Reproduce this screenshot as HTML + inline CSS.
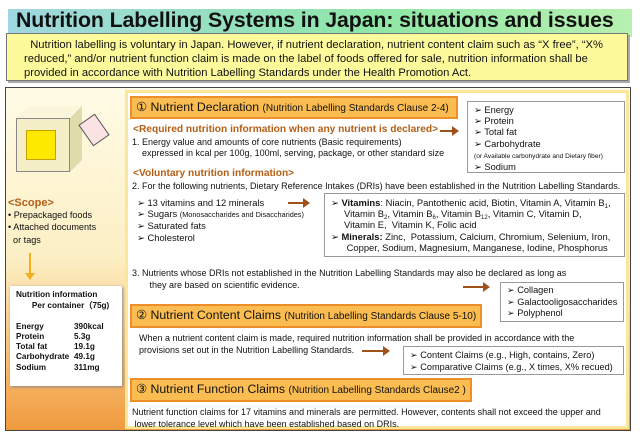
<!DOCTYPE html>
<html><head><meta charset="utf-8"><style>
*{margin:0;padding:0;box-sizing:border-box}
body{width:640px;height:443px;background:#fff;position:relative;overflow:hidden;font-family:"Liberation Sans",Arial,sans-serif;color:#111}
.a{position:absolute;white-space:nowrap}
.hdr{position:absolute;background:#fbbd52;border:2px solid #ec8e2a;font-size:12.3px;line-height:19px;padding-left:4px;white-space:nowrap;overflow:hidden}
.hdr small{font-size:10px}
.box{position:absolute;background:#fff;border:1px solid #999;white-space:nowrap}
.t9{font-size:9px}
.br{color:#b35f16;font-weight:bold;font-size:10.2px}
.s{font-size:6px;vertical-align:-2px;line-height:0}
.arr{position:absolute;height:2px;background:#a0521a}
.arr:after{content:"";position:absolute;right:-2px;top:-4px;border-left:7px solid #a0521a;border-top:5px solid transparent;border-bottom:5px solid transparent}
</style></head><body>
<div class="a" style="left:8px;top:9px;width:624px;height:28px;background:linear-gradient(90deg,#9fd7e0,#8fe7a6 60%,#b8f0b0);"></div>
<div class="a" style="left:16px;top:8px;font-size:21.3px;font-weight:bold;letter-spacing:-0.1px">Nutrition Labelling Systems in Japan: situations and issues</div>
<div class="a" style="left:6px;top:33px;width:622px;height:48px;background:#fdfa9c;border:1px solid #777;box-shadow:2px 2px 0 #aaa;font-size:11.2px;line-height:14px;padding:4px 0 0 17px">&nbsp;&nbsp;Nutrition labelling is voluntary in Japan. However, if nutrient declaration, nutrient content claim such as “X free”, “X%<br>reduced,” and/or nutrient function claim is made on the label of foods offered for sale, nutrition information shall be<br>provided in accordance with Nutrition Labelling Standards under the Health Promotion Act.</div>

<div class="a" style="left:5px;top:87px;width:626px;height:344px;border:1px solid #444;background:linear-gradient(180deg,#fffbe6 0%,#fcefc4 50%,#f6b462 85%,#ef9a3e 100%);"></div>
<div class="a" style="left:125px;top:90px;width:504px;height:339px;background:#fff;border:3px solid #fbe79a;"></div>
<!-- cube -->
<div class="a" style="left:16px;top:118px;width:54px;height:54px;background:#f4efc6;border:1px solid #888"></div>
<div class="a" style="left:26px;top:130px;width:30px;height:30px;background:#fde800;border:1px solid #c8a000"></div>
<div class="a" style="left:16px;top:106px;width:66px;height:12px;background:#f9f6dc;clip-path:polygon(12px 0,66px 0,54px 12px,0 12px)"></div>
<div class="a" style="left:70px;top:106px;width:12px;height:66px;background:#e0dbaa;clip-path:polygon(12px 0,12px 54px,0 66px,0 12px)"></div>
<div class="a" style="left:84px;top:117px;width:20px;height:26px;background:#fbe3e3;border:1px solid #555;transform:rotate(-35deg)"></div>

<div class="a br" style="left:8px;top:197px;font-size:11px">&lt;Scope&gt;</div>
<div class="a" style="left:8px;top:209px;font-size:9.1px;line-height:12.3px">• Prepackaged foods<br>• Attached documents<br>&nbsp;&nbsp;or tags</div>
<div class="a" style="left:29px;top:253px;width:2px;height:22px;background:#f2b01e"></div>
<div class="a" style="left:25px;top:273px;border-top:7px solid #f2b01e;border-left:5px solid transparent;border-right:5px solid transparent"></div>
<div class="a" style="left:10px;top:286px;width:112px;height:100px;background:#fff;box-shadow:1px 1px 3px #888;font-size:8.2px;font-weight:bold;line-height:10.5px;padding:4px 0 0 6px">Nutrition information<br>&nbsp;&nbsp;&nbsp;&nbsp;&nbsp;&nbsp;&nbsp;Per container（75g)<br><br>
<table style="border-collapse:collapse;font-size:8.2px;line-height:10.3px"><tr><td style="width:58px">Energy</td><td>390kcal</td></tr><tr><td>Protein</td><td>5.3g</td></tr><tr><td>Total fat</td><td>19.1g</td></tr><tr><td>Carbohydrate</td><td>49.1g</td></tr><tr><td>Sodium</td><td>311mg</td></tr></table></div>

<div class="hdr" style="left:130px;top:96px;width:328px;height:23px">① Nutrient Declaration <small>(Nutrition Labelling Standards Clause 2-4)</small></div>
<div class="a br" style="left:133px;top:124px">&lt;Required nutrition information when any nutrient is declared&gt;</div>
<div class="arr" style="left:440px;top:130px;width:17px"></div>
<div class="a t9" style="left:132px;top:137px;line-height:11px">1. Energy value and amounts of core nutrients (Basic requirements)<br>&nbsp;&nbsp;&nbsp;&nbsp;expressed in kcal per 100g, 100ml, serving, package, or other standard size</div>
<div class="box" style="left:467px;top:101px;width:158px;height:72px;font-size:9.3px;line-height:11.2px;padding:3px 0 0 6px">➢ Energy<br>➢ Protein<br>➢ Total fat<br>➢ Carbohydrate<br><span style="font-size:6.6px">(or Available carbohydrate and Dietary fiber)</span><br>➢ Sodium</div>
<div class="a br" style="left:133px;top:168px">&lt;Voluntary nutrition information&gt;</div>
<div class="a t9" style="left:132px;top:181px">2. For the following nutrients, Dietary Reference Intakes (DRIs) have been established in the Nutrition Labelling Standards.</div>
<div class="a" style="left:137px;top:197px;font-size:9.4px;line-height:11.2px">➢ 13 vitamins and 12 minerals<br>➢ Sugars <span style="font-size:7.3px">(Monosaccharides and Disaccharides)</span><br>➢ Saturated fats<br>➢ Cholesterol</div>
<div class="arr" style="left:288px;top:202px;width:20px"></div>
<div class="box" style="left:324px;top:193px;width:301px;height:64px;font-size:9.4px;line-height:11.2px;padding:3px 0 0 6px">➢ <b>Vitamins</b>: Niacin, Pantothenic acid, Biotin, Vitamin A, Vitamin B<span class="s">1</span>,<br>&nbsp;&nbsp;&nbsp;&nbsp;&nbsp;Vitamin B<span class="s">2</span>, Vitamin B<span class="s">6</span>, Vitamin B<span class="s">12</span>, Vitamin C, Vitamin D,<br>&nbsp;&nbsp;&nbsp;&nbsp;&nbsp;Vitamin E,&nbsp; Vitamin K, Folic acid<br>➢ <b>Minerals:</b> Zinc,&nbsp; Potassium, Calcium, Chromium, Selenium, Iron,<br>&nbsp;&nbsp;&nbsp;&nbsp;&nbsp;&nbsp;Copper, Sodium, Magnesium, Manganese, Iodine, Phosphorus</div>
<div class="a t9" style="left:132px;top:267px;line-height:12px">3. Nutrients whose DRIs not established in the Nutrition Labelling Standards may also be declared as long as<br>&nbsp;&nbsp;&nbsp;&nbsp;&nbsp;&nbsp;&nbsp;they are based on scientific evidence.</div>
<div class="arr" style="left:463px;top:286px;width:25px"></div>
<div class="box" style="left:500px;top:282px;width:124px;height:40px;font-size:9.2px;line-height:11.5px;padding:2px 0 0 6px">➢ Collagen<br>➢ Galactooligosaccharides<br>➢ Polyphenol</div>

<div class="hdr" style="left:130px;top:304px;width:352px;height:24px">② Nutrient Content Claims <small>(Nutrition Labelling Standards Clause 5-10)</small></div>
<div class="a t9" style="left:139px;top:332px;line-height:12px">When a nutrient content claim is made, required nutrition information shall be provided in accordance with the<br>provisions set out in the Nutrition Labelling Standards.</div>
<div class="arr" style="left:362px;top:350px;width:26px"></div>
<div class="box" style="left:403px;top:346px;width:221px;height:29px;font-size:9.2px;line-height:12px;padding:2px 0 0 6px">➢ Content Claims (e.g., High, contains, Zero)<br>➢ Comparative Claims (e.g., X times, X% recued)</div>

<div class="hdr" style="left:130px;top:378px;width:342px;height:24px">③ Nutrient Function Claims <small>(Nutrition Labelling Standards Clause2 )</small></div>
<div class="a t9" style="left:132px;top:407px;line-height:11.5px">Nutrient function claims for 17 vitamins and minerals are permitted. However, contents shall not exceed the upper and<br>&nbsp;lower tolerance level which have been established based on DRIs.</div>
</body></html>
